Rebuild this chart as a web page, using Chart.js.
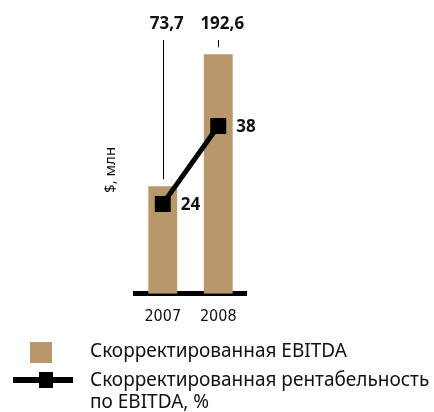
<!DOCTYPE html>
<html>
<head>
<meta charset="utf-8">
<script src="https://cdn.jsdelivr.net/npm/chart.js@4.4.1/dist/chart.umd.min.js"></script>
<style>
    html, body { margin: 0; padding: 0; background: #fff; }
    .wrap { position: relative; width: 434px; height: 412px; }
    canvas { position: absolute; left: 0; top: 0; }
    .legend { position: absolute; left: 0; top: 0; width: 434px; height: 412px; pointer-events: none;
              font-family: 'Noto Sans', sans-serif; font-size: 19px; color: #111; }
    .swatch { position: absolute; left: 30px; top: 342px; width: 22px; height: 21px; background: #b8976a; }
    .lineIcon { position: absolute; left: 13px; top: 377px; width: 60px; height: 6px; background: #000; }
    .lineMark { position: absolute; left: 39px; top: 372px; width: 14px; height: 16px; background: #000; }
    .txt1 { position: absolute; left: 90px; top: 338px; line-height: 24px; white-space: nowrap; }
    .txt2 { position: absolute; left: 90px; top: 368px; line-height: 22px; white-space: nowrap; }
</style>
</head>
<body>
<div class="wrap">
    <canvas id="chart" width="434" height="412"></canvas>
    <div class="legend">
        <div class="swatch"></div>
        <div class="txt1">Скорректированная EBITDA</div>
        <div class="lineIcon"></div>
        <div class="lineMark"></div>
        <div class="txt2">Скорректированная рентабельность<br>по EBITDA, %</div>
    </div>
</div>
<script>
const years = ['2007', '2008'];
const ebitda = [73.7, 192.6];
const margin = [24, 38];
const ebitdaLabels = ['73,7', '192,6'];
const marginLabels = ['24', '38'];

const barColor = '#b8976a';
const numFont = 'bold 17px "Noto Sans", sans-serif';

// подписи над столбцами с выносными линиями + подписи точек линии
const labelsPlugin = {
    id: 'labels',
    afterDatasetsDraw(chart) {
        const ctx = chart.ctx;
        const bars = chart.getDatasetMeta(1).data;
        const points = chart.getDatasetMeta(0).data;
        ctx.save();
        ctx.font = numFont;
        ctx.fillStyle = '#111';
        ctx.textBaseline = 'middle';
        bars.forEach((bar, i) => {
            ctx.textAlign = 'center';
            ctx.fillText(ebitdaLabels[i], bar.x + 4, 24);
            ctx.beginPath();
            ctx.strokeStyle = '#000';
            ctx.lineWidth = 1;
            ctx.moveTo(Math.round(bar.x) + 0.5, 40);
            ctx.lineTo(Math.round(bar.x) + 0.5, bar.y - 7);
            ctx.stroke();
        });
        points.forEach((pt, i) => {
            ctx.textAlign = 'left';
            ctx.fillText(marginLabels[i], pt.x + 18, pt.y + 1);
        });
        ctx.restore();
    }
};

new Chart(document.getElementById('chart'), {
    data: {
        labels: years,
        datasets: [
            {
                type: 'line',
                label: 'Скорректированная рентабельность по EBITDA, %',
                data: margin,
                yAxisID: 'y1',
                borderColor: '#000',
                borderWidth: 5,
                pointStyle: 'rect',
                pointRadius: 11.3,
                pointBackgroundColor: '#000',
                pointBorderWidth: 0,
                order: 0
            },
            {
                type: 'bar',
                label: 'Скорректированная EBITDA',
                data: ebitda,
                yAxisID: 'y',
                backgroundColor: barColor,
                base: -23,
                barPercentage: 0.52,
                categoryPercentage: 1,
                order: 1
            }
        ]
    },
    options: {
        responsive: false,
        animation: false,
        events: [],
        layout: {
            padding: { left: 102, right: 188, top: 46, bottom: 73 }
        },
        plugins: {
            legend: { display: false },
            tooltip: { enabled: false }
        },
        scales: {
            x: {
                grid: { display: false, drawTicks: false },
                border: { display: true, color: '#000', width: 5 },
                ticks: {
                    color: '#111',
                    padding: 13,
                    font: { family: "'Liberation Sans Narrow', 'DejaVu Sans Condensed', sans-serif", size: 16 }
                }
            },
            y: {
                min: -23,
                max: 200,
                grid: { display: false, drawTicks: false },
                border: { display: false },
                ticks: { display: false },
                title: {
                    display: true,
                    text: '$, млн',
                    color: '#111',
                    padding: { top: 0, bottom: 15 },
                    font: { family: "'Noto Sans', sans-serif", size: 15 }
                }
            },
            y1: {
                display: false,
                min: 7.85,
                max: 52.36
            }
        }
    },
    plugins: [labelsPlugin]
});
</script>
</body>
</html>
